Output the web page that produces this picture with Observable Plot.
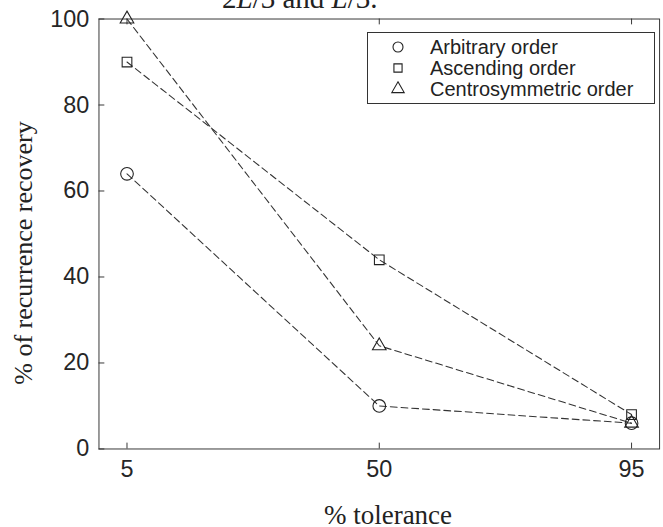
<!DOCTYPE html>
<html><head><meta charset="utf-8">
<script src="https://cdn.jsdelivr.net/npm/d3@7"></script>
<script src="https://cdn.jsdelivr.net/npm/@observablehq/plot@0.6"></script>
<style>
html,body{margin:0;padding:0;background:#fff;overflow:hidden;}
#wrap{position:relative;width:663px;height:527px;overflow:hidden;background:#fff;}
#chart{position:absolute;left:0;top:0;}
.t{position:absolute;white-space:nowrap;color:#222;line-height:1;}
#top{left:222px;top:-18px;font:29px "Liberation Serif","DejaVu Serif",serif;}
#xl{left:0;width:776px;text-align:center;top:500px;font:27px "Liberation Serif","DejaVu Serif",serif;}
#yl{left:24px;top:253px;font:26px "Liberation Serif","DejaVu Serif",serif;transform:translate(-50%,-50%) rotate(-90deg);}
#legend{position:absolute;left:367px;top:32px;width:286px;height:70px;border:1px solid #333;background:#fff;font:20px "Liberation Sans",Arial,sans-serif;color:#222;}
.row{position:absolute;left:0;height:18px;line-height:18px;}
.row svg{position:absolute;left:22px;top:1px;}
.row span{position:absolute;left:62px;top:0;white-space:nowrap;}
</style></head><body>
<div id="wrap">
 <div id="chart"></div>
 <div class="t" id="top">2<i>L</i>/3 and <i>L</i>/3.</div>
 <div class="t" id="xl">% tolerance</div>
 <div class="t" id="yl">% of recurrence recovery</div>
 <div id="legend"></div>
</div>
<script>
const tolerance = [5, 50, 95];
const arbitrary = [64, 10, 6];
const ascending = [90, 44, 8];
const centrosymmetric = [100, 24, 6];
const seriesNames = ["Arbitrary order", "Ascending order", "Centrosymmetric order"];
const seriesSymbols = ["circle", "square", "triangle"];
const seriesRadius = [6.5, 5.6, 5.2];
const xTicks = [5, 50, 95];
const yTicks = [0, 20, 40, 60, 80, 100];

const seriesValues = [arbitrary, ascending, centrosymmetric];
const rows = [];
seriesValues.forEach((vals, s) => vals.forEach((v, i) => rows.push({series: seriesNames[s], tol: tolerance[i], val: v})));

const W = 680, H = 527, mL = 101, mR = 4, mT = 19, mB = 67;
const pw = W - mL - mR, ph = H - mT - mB;
const labelFont = "'Liberation Sans', Arial, sans-serif";

const marks = [
  Plot.frame({stroke: "#333", strokeWidth: 1}),
  Plot.tickX(xTicks, {x: d => d, insetTop: ph - 6, stroke: "#333"}),
  Plot.tickX(xTicks, {x: d => d, insetBottom: ph - 6, stroke: "#333"}),
  Plot.tickY(yTicks, {y: d => d, insetRight: pw - 6, stroke: "#333"}),
  Plot.text(xTicks, {x: d => d, text: d => String(d), frameAnchor: "bottom", lineAnchor: "top", dy: 12, fontSize: 24, fontFamily: labelFont, fill: "#262626"}),
  Plot.text(yTicks, {y: d => d, text: d => String(d), frameAnchor: "left", textAnchor: "end", dx: -10, fontSize: 24, fontFamily: labelFont, fill: "#262626"}),
  Plot.line(rows, {x: "tol", y: "val", z: "series", stroke: "#333", strokeWidth: 1.1, strokeDasharray: "7,4"})
];
seriesNames.forEach((name, s) => {
  marks.push(Plot.dot(rows.filter(d => d.series === name), {x: "tol", y: "val", symbol: () => seriesSymbols[s], r: seriesRadius[s], stroke: "#222", fill: "none", strokeWidth: 1.1}));
});

const chart = Plot.plot({
  width: W, height: H,
  marginLeft: mL, marginRight: mR, marginTop: mT, marginBottom: mB,
  x: {domain: [0, 100], axis: null},
  y: {domain: [0, 100], axis: null},
  symbol: {type: "identity"},
  style: {fontFamily: labelFont, color: "#262626", background: "transparent", overflow: "visible"},
  marks
});
document.getElementById("chart").appendChild(chart);

// legend
const leg = document.getElementById("legend");
const rowTops = [5, 26, 47];
seriesNames.forEach((name, s) => {
  const r = document.createElement("div");
  r.className = "row";
  r.style.top = rowTops[s] + "px";
  const sym = d3.symbol(s === 0 ? d3.symbolCircle : s === 1 ? d3.symbolSquare : d3.symbolTriangle, Math.PI * (s === 0 ? 5 : 4.6) ** 2)();
  r.innerHTML = `<svg width="16" height="16" viewBox="-8 -8 16 16"><path d="${sym}" fill="none" stroke="#222" stroke-width="1.1"/></svg><span>${name}</span>`;
  leg.appendChild(r);
});
</script>
</body></html>
